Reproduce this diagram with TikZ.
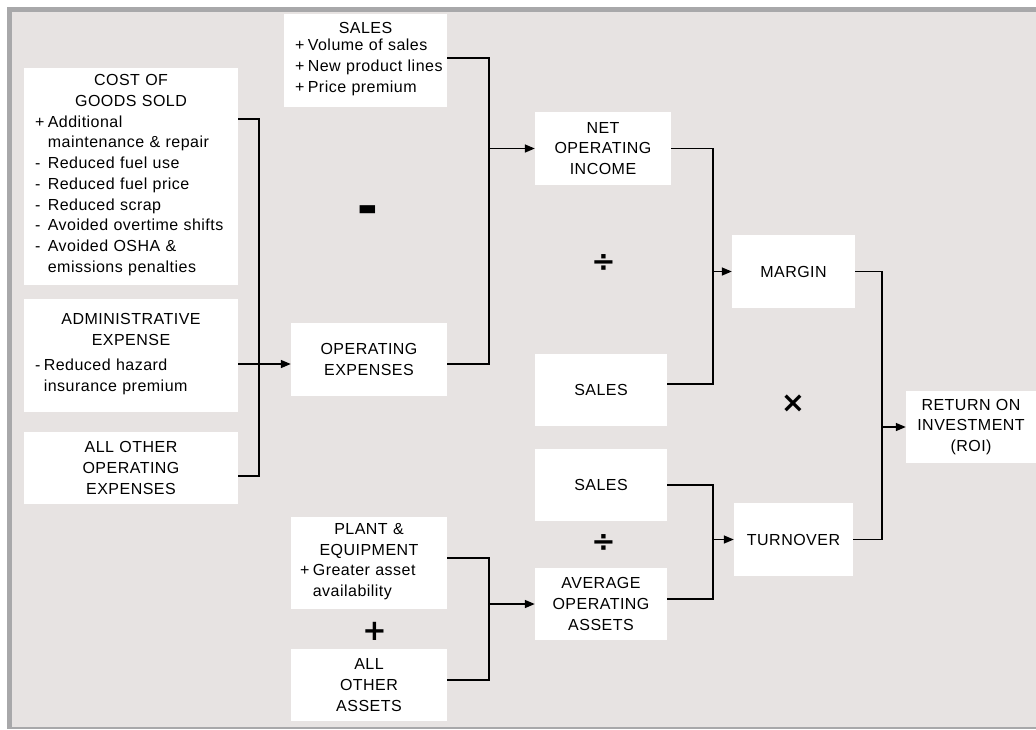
\documentclass[tikz,border=0pt]{standalone}
\usepackage{fontspec}
\setmainfont{Liberation Sans}[LetterSpace=3]
\newfontfamily\opfont{DejaVu Sans}
\usetikzlibrary{arrows.meta}
\definecolor{panel}{HTML}{E7E3E2}
\definecolor{rim}{HTML}{A8A8AA}
\newcommand{\bullets}[1]{\makebox[\linewidth][l]{\begin{tabular}[t]{@{}l@{\hspace{3.5pt}}l@{}}#1\end{tabular}}}
\begin{document}
\begin{tikzpicture}[x=1pt,y=-1pt,
  box/.style={fill=white,inner xsep=11pt,inner ysep=0pt,align=center,font=\fontsize{16}{20.7}\selectfont},
  op/.style={inner sep=0pt,font=\opfont\bfseries\fontsize{29}{29}\selectfont},
  wire/.style={line width=1.5pt},
  arr/.style={wire,-{Triangle[length=10pt,width=8pt]}}]
\useasboundingbox (0,0) rectangle (1036,729);
\fill[white] (0,0) rectangle (1036,729);
\fill[rim] (7,7) rectangle (1036,729);
\fill[panel] (12,12) rectangle (1036,727);

\node[box,text width=192,minimum height=217] (cogs) at (131,176.5)
  {COST OF\\GOODS SOLD\\
   \bullets{+ & Additional\\ & maintenance \& repair\\ - & Reduced fuel use\\ - & Reduced fuel price\\
            - & Reduced scrap\\ - & Avoided overtime shifts\\ - & Avoided OSHA \&\\ & emissions penalties}};
\node[box,text width=192,minimum height=113] (admin) at (131,355.5)
  {ADMINISTRATIVE\\EXPENSE\\[4pt]
   \bullets{- & Reduced hazard\\ & insurance premium}\par\vspace{12pt}};
\node[box,text width=192,minimum height=72] (allother) at (131,468) {ALL OTHER\\OPERATING\\EXPENSES};

\node[box,text width=141,minimum height=93] (salesA) at (365.5,60.5)
  {SALES\\[-3.5pt]\bullets{+ & Volume of sales\\ + & New product lines\\ + & Price premium}};
\node[box,text width=134,minimum height=73] (opex) at (369,359.5) {OPERATING\\EXPENSES\par\vspace{17pt}};
\node[box,inner xsep=9pt,text width=138,minimum height=92] (plant) at (369,563)
  {PLANT \&\\EQUIPMENT\\\bullets{+ & Greater asset\\ & availability}};
\node[box,text width=134,minimum height=72] (assets) at (369,685) {ALL\\OTHER\\ASSETS};

\node[box,text width=114,minimum height=73] (net) at (603,148.5) {NET\\OPERATING\\INCOME};
\node[box,text width=110,minimum height=72] (sales2) at (601,390) {SALES};
\node[box,text width=110,minimum height=72] (sales3) at (601,485) {SALES};
\node[box,text width=110,minimum height=72] (avg) at (601,604) {AVERAGE\\OPERATING\\ASSETS};

\node[box,text width=101,minimum height=73] (margin) at (793.5,271.5) {MARGIN};
\node[box,text width=97,minimum height=73] (turnover) at (793.5,539.5) {TURNOVER};
\node[box,text width=108,minimum height=72] (roi) at (971,427) {RETURN ON\\INVESTMENT\\(ROI)};

\node[op,transform shape,xscale=0.85,yscale=2.4] (minus) at (368,219) {−};
\node[op] (plus) at (374.5,631.5) {+};
\node[op] (div1) at (603.5,263.5) {÷};
\node[op] (div2) at (603.5,543) {÷};
\node[op] (times) at (793,404) {×};

\draw[wire] ([yshift=57.5pt]cogs.east) -- ++(21,0) |- ([yshift=-8pt]allother.east);
\draw[arr] ([yshift=-8.5pt]admin.east) -- ([yshift=-4.5pt]opex.west);
\draw[wire] ([yshift=2.5pt]salesA.east) -- ++(42,0) coordinate (busB) |- ([yshift=-4.5pt]opex.east);
\draw[arr] (busB |- net.west) -- (net.west);
\draw[wire] ([yshift=5pt]plant.east) -- ++(42,0) coordinate (busP) |- ([yshift=5pt]assets.east);
\draw[arr] (busP |- avg.west) -- (avg.west);
\draw[wire] (net.east) -- ++(42,0) coordinate (busC) |- ([yshift=6pt]sales2.east);
\draw[arr] (busC |- margin.west) -- (margin.west);
\draw[wire] (sales3.east) -- ++(46,0) coordinate (busT) |- ([yshift=5pt]avg.east);
\draw[arr] (busT |- turnover.west) -- (turnover.west);
\draw[wire] (margin.east) -- ++(27,0) coordinate (busR) |- (turnover.east);
\draw[arr] (busR |- roi.west) -- (roi.west);
\end{tikzpicture}
\end{document}
